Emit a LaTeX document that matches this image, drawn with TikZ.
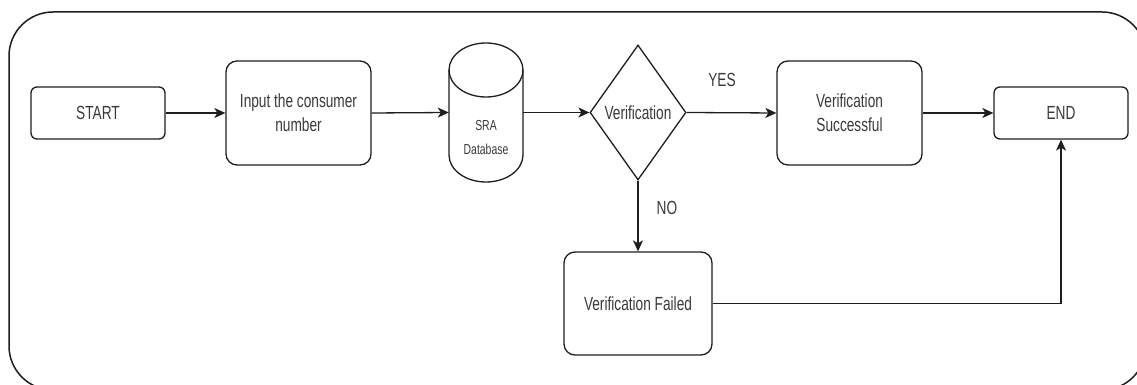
\documentclass[tikz,border=0pt]{standalone}
\usepackage{fontspec}
\setmainfont{Liberation Sans}[FakeStretch=0.72]
\usetikzlibrary{shapes.geometric,arrows.meta}
\definecolor{txtgray}{HTML}{3A3A3A}
\definecolor{linegray}{HTML}{1E1E1E}
\tikzset{
  line/.style={draw=linegray, line width=1.3pt},
  arr/.style={line, -{Stealth[length=11pt,width=10pt,inset=3pt]}},
  smallbox/.style={line, rectangle, rounded corners=6pt, minimum width=134pt, minimum height=52pt, inner sep=0pt},
  bigbox/.style={line, rectangle, rounded corners=11pt, minimum width=145pt, minimum height=104pt, inner sep=0pt, align=center},
  diam/.style={line, diamond, minimum width=96pt, minimum height=135pt, inner sep=0pt},
  ghost/.style={rectangle, minimum width=74pt, minimum height=139pt, inner sep=0pt},
  txt/.style={text=txtgray, font=\fontsize{19}{24}\selectfont, align=center, inner sep=0pt},
  smalltxt/.style={text=txtgray, font=\fontsize{14.5}{24}\selectfont, align=center, inner sep=0pt}
}
\begin{document}
\begin{tikzpicture}[x=1pt,y=1pt]
\useasboundingbox (0,0) rectangle (1137,385);
\fill[white] (0,0) rectangle (1137,385);
\begin{scope}
\clip (0,0) rectangle (1137,385);
\draw[draw=linegray, line width=1.5pt, rounded corners=44pt] (9,-5) rectangle (1146,373);
\end{scope}
% nodes
\node[smallbox, txt] (start) at (98,272) {START};
\node[bigbox, txt] (inp) at (298.5,272) {Input the consumer\\number};
\node[ghost] (db) at (486,272.5) {};
\draw[line] (449,315) -- (449,230) arc[start angle=180, end angle=360, x radius=37pt, y radius=27pt] -- (523,315);
\draw[line] (486,315) ellipse [x radius=37pt, y radius=27pt];
\node[smalltxt] (dbtxt) at (486,247) {SRA\\Database};
\node[diam] (ver) at (638,272.5) {};
\node[txt] (vertxt) at (ver.center) {Verification};
\node[bigbox, txt] (succ) at (849.5,272) {Verification\\Successful};
\node[smallbox, txt] (endn) at (1061,272) {END};
\node[bigbox, txt, minimum width=148pt, minimum height=103pt] (fail) at (638,81.5) {Verification Failed};
% labels
\node[txt] (yes) at (722,305) {YES};
\node[txt] (no) at (667,177) {NO};
% connectors
\draw[arr] (start.east) -- (inp.west);
\draw[arr] (inp.east) -- (db.west);
\draw[arr] (db.east) -- (ver.west);
\draw[arr] (ver.east) -- (succ.west);
\draw[arr] (succ.east) -- (endn.west);
\draw[arr] (ver.south) -- (fail.north);
\draw[arr] (fail.east) -| (endn.south);
\end{tikzpicture}
\end{document}
